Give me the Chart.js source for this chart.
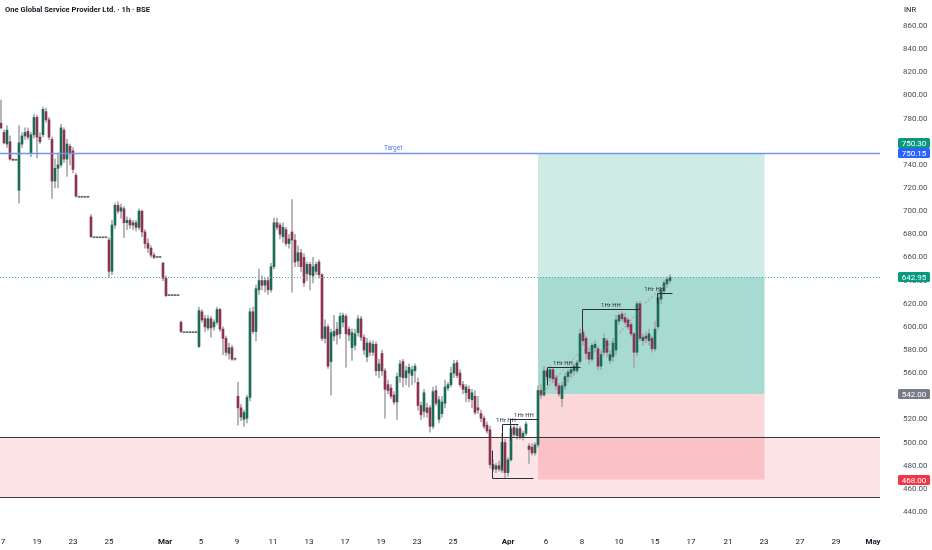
<!DOCTYPE html>
<html><head><meta charset="utf-8">
<script src="https://cdn.jsdelivr.net/npm/chart.js@4.4.1/dist/chart.umd.min.js"></script>
<style>html,body{margin:0;padding:0;background:#fff;}canvas{display:block}</style>
</head><body>
<canvas id="c" width="932" height="550"></canvas>
<script>
const title = 'One Global Service Provider Ltd. · 1h · BSE';
const currency = 'INR';

const opens = [
776,768,758,760,745,744,718,758,765,769,
750,766,781,764,766,786,779,762,726,737,
740,770,745,756,752,731,712,712,712,712,
695,677,677,677,677,677,675,648,688,705,
700,702,690,692,688,690,686,700,682,672,
668,662,660,660,655,642,627,627,627,627,
604,595,595,595,595,595,583,613,607,599,
607,600,604,615,598,590,577,582,572,540,
530,520,521,539,613,596,632,640,636,640,
632,652,690,688,678,684,672,682,675,657,
664,660,646,654,644,648,656,645,590,600,
570,592,598,594,604,609,598,582,584,595,
607,591,574,586,578,585,562,577,562,550,
547,541,535,557,570,556,560,558,562,552,
532,527,530,530,514,545,520,525,534,547,
550,560,569,560,550,543,546,537,540,530,
525,521,515,511,481,477,480,476,500,474,
485,513,506,512,505,508,497,496,491,498,
545,541,562,556,563,556,549,538,549,557,
560,562,562,570,595,590,578,572,582,581,
566,578,588,571,574,580,605,611,608,606,
602,594,578,620,588,592,588,590,581,600,
624,631,637,640];
const highs = [
796,770,774,765,745,744,774,768,772,772,
768,784,783,768,790,789,781,764,745,750,
775,772,762,758,755,733,712,712,712,712,
697,677,677,677,677,677,677,692,707,708,
706,704,695,694,692,692,702,701,684,676,
670,664,660,660,656,644,627,627,627,627,
605,595,595,595,595,595,617,615,610,610,
609,606,617,616,600,592,586,584,573,552,
533,528,541,616,617,636,650,644,642,643,
655,694,694,690,690,686,680,710,680,670,
667,663,656,656,660,656,658,646,606,602,
598,610,604,612,612,611,600,598,598,610,
609,593,590,588,588,587,572,580,564,554,
550,544,560,571,572,566,568,566,568,556,
535,546,534,532,548,549,540,540,554,552,
565,571,571,563,553,550,549,546,545,540,
528,523,518,514,485,482,484,508,503,487,
514,516,515,514,510,518,499,499,500,549,
550,566,564,566,565,558,551,552,560,563,
566,568,571,598,598,592,582,586,588,583,
580,594,590,580,590,610,612,613,612,608,
604,595,622,622,594,596,598,592,605,628,
634,640,643,645];
const lows = [
771,758,755,744,744,744,707,755,762,762,
747,763,746,758,764,777,762,711,720,720,
738,742,730,740,733,712,712,712,712,712,
677,677,677,677,677,677,643,645,685,698,
694,677,684,685,684,683,684,678,668,664,
660,659,660,660,640,626,627,627,627,627,
595,595,595,595,595,595,582,604,596,597,
591,597,602,596,576,575,572,571,571,515,
519,514,517,536,594,588,628,632,630,628,
630,650,684,676,673,670,668,630,652,652,
648,635,640,632,638,645,642,588,586,564,
541,588,585,590,600,565,588,571,580,592,
588,576,570,575,575,558,556,558,521,542,
538,533,520,552,548,550,548,550,552,528,
520,522,522,509,512,532,517,522,530,545,
548,556,556,548,542,535,535,530,524,525,
518,512,508,478,475,474,475,474,469,471,
484,505,503,503,502,506,482,489,489,496,
538,540,554,553,552,546,540,531,546,552,
556,558,560,568,584,572,568,570,578,563,
563,575,574,568,570,576,602,605,602,598,
592,565,575,588,584,586,584,578,579,598,
620,628,634,638];
const closes = [
772,759,770,745,744,744,759,765,768,764,
766,781,764,760,788,779,764,726,737,740,
772,745,758,750,736,713,712,712,712,712,
678,677,677,677,677,677,648,688,705,700,
703,690,692,688,690,686,700,682,672,668,
662,660,660,660,642,627,627,627,627,627,
596,595,595,595,595,595,614,606,600,607,
599,604,615,598,590,578,582,572,572,530,
522,526,539,613,596,633,640,636,640,632,
652,690,686,680,686,672,676,675,656,664,
652,638,654,645,652,654,645,590,600,566,
595,596,593,609,610,594,593,595,594,607,
591,580,586,578,585,562,568,562,546,545,
540,535,557,568,556,562,565,563,566,532,
524,543,526,514,544,534,537,535,548,550,
560,568,558,550,546,548,538,543,526,528,
521,514,510,481,477,480,477,500,474,485,
512,507,512,505,508,516,494,491,498,545,
541,562,557,563,555,549,542,549,557,561,
563,566,569,594,588,577,572,584,585,566,
576,590,578,576,586,606,610,607,604,600,
594,578,620,590,591,590,594,581,598,625,
632,638,641,642.95];

// date ticks (bar-index positions) and labels
const dateTickPos = [0.67,12,24,36,54.67,66.67,78.67,90.67,102.67,114.67,126.67,138.67,150.67,169,181.67,193.67,206,218,230,242.33,254.33,266.33,278.33,290.67];
const dateTickLabels = ['7','19','23','25','Mar','5','9','11','13','17','19','23','25','Apr','6','8','10','15','17','21','23','27','29','May'];
const priceTicks = [440,460,480,500,520,540,560,580,600,620,640,660,680,700,720,740,760,780,800,820,840,860];

// drawing levels
const targetPrice = 750.15, targetTag = 750.30, lastPrice = 642.95, entryPrice = 542.00, stopPrice = 468.00;
const demandTop = 505, demandBottom = 453;
const positionStart = 179, positionEnd = 254.5;
const hhText = ['1Hr HH','1Hr HH','1Hr HH','1Hr HH','1Hr HH'];
const hhLevel = [516, 520.3, 565.3, 615.4, 629.2];
const hhFrom = [167, 169.7, 182, 193.7, 218.7];
const hhTo = [172.3, 179, 193, 213, 223.7];
const hhTextX = [168.3, 174.3, 187.3, 203.3, 217.7];
const hhStemEnd = [478.8, 502.2, 549.7, 594.7, 620.6];
const lowBracket = {from:163.7, to:177.3, level:469.3, top:493.5};
const trendFrom = [[180,541],[199,574],[214.7,620.6]];
const trendTo = [[194,581.7],[213,614.5],[222.3,637.9]];

const GREEN = '#1c6b58', RED = '#8c3353', WICK = '#a9a9a9', FLAT = '#666';
const FONT = 'Roboto, "Noto Sans", sans-serif';

const bodyColors = opens.map((o,i)=> closes[i]>o ? GREEN : (closes[i]<o ? RED : FLAT));
const wickData = highs.map((h,i)=>({x:i, y:[lows[i], h]}));
const bodyData = opens.map((o,i)=>({x:i, y:[Math.min(o,closes[i]), Math.max(o,closes[i])]}));

const overlay = {
  id:'overlay',
  beforeDatasetsDraw(chart){
    const {ctx, chartArea:a, scales:{x,y}} = chart;
    ctx.save();
    ctx.beginPath(); ctx.rect(a.left,a.top,a.width,a.height); ctx.clip();
    const yT=y.getPixelForValue(demandTop), yB=y.getPixelForValue(demandBottom);
    ctx.fillStyle='rgba(242,54,69,0.13)';
    ctx.fillRect(a.left,yT,a.width,yB-yT);
    const x0=x.getPixelForValue(positionStart), x1=x.getPixelForValue(positionEnd);
    const yTg=y.getPixelForValue(targetPrice), yE=y.getPixelForValue(entryPrice), yS=y.getPixelForValue(stopPrice), yL=y.getPixelForValue(lastPrice);
    ctx.fillStyle='rgba(8,153,129,0.2)';
    ctx.fillRect(x0,yTg,x1-x0,yE-yTg);
    ctx.fillStyle='rgba(8,153,129,0.2)';
    ctx.fillRect(x0,yL,x1-x0,yE-yL);
    ctx.fillStyle='rgba(242,54,69,0.2)';
    ctx.fillRect(x0,yE,x1-x0,yS-yE);
    ctx.restore();
  },
  afterDatasetsDraw(chart){
    const {ctx, chartArea:a, scales:{x,y}} = chart;
    const py = v => Math.round(y.getPixelForValue(v))+0.5;
    const px = v => Math.round(x.getPixelForValue(v))+0.5;
    ctx.save();
    ctx.beginPath(); ctx.rect(a.left,a.top,a.width,a.height); ctx.clip();
    ctx.lineWidth=1;
    ctx.strokeStyle='#3a3a3a';
    [demandTop,demandBottom].forEach(v=>{ctx.beginPath();ctx.moveTo(a.left,py(v));ctx.lineTo(a.right,py(v));ctx.stroke();});
    ctx.strokeStyle='#6f94f3'; ctx.lineWidth=1.5;
    ctx.beginPath();ctx.moveTo(a.left,py(targetPrice));ctx.lineTo(a.right,py(targetPrice));ctx.stroke();
    ctx.lineWidth=1;
    ctx.fillStyle='#4f7ce8'; ctx.font='6.5px '+FONT; ctx.textAlign='center'; ctx.textBaseline='bottom';
    ctx.fillText('Target', x.getPixelForValue(130.7), py(targetPrice)-2);
    ctx.strokeStyle='#3fae9c'; ctx.setLineDash([1,2]);
    ctx.beginPath();ctx.moveTo(a.left,py(lastPrice));ctx.lineTo(a.right,py(lastPrice));ctx.stroke();
    ctx.strokeStyle='#8a8f99'; ctx.setLineDash([2,2]);
    trendFrom.forEach((f,i)=>{const t=trendTo[i];ctx.beginPath();ctx.moveTo(x.getPixelForValue(f[0]),y.getPixelForValue(f[1]));ctx.lineTo(x.getPixelForValue(t[0]),y.getPixelForValue(t[1]));ctx.stroke();});
    ctx.setLineDash([]);
    ctx.strokeStyle='#2a2e39';
    hhLevel.forEach((lv,i)=>{
      ctx.beginPath();
      ctx.moveTo(px(hhFrom[i]),py(hhStemEnd[i]));
      ctx.lineTo(px(hhFrom[i]),py(lv));
      ctx.lineTo(px(hhTo[i]),py(lv));
      ctx.stroke();
    });
    ctx.beginPath();
    ctx.moveTo(px(lowBracket.from),py(lowBracket.top));
    ctx.lineTo(px(lowBracket.from),py(lowBracket.level));
    ctx.lineTo(px(lowBracket.to),py(lowBracket.level));
    ctx.stroke();
    ctx.fillStyle='#2a2e39'; ctx.font='6px '+FONT; ctx.textAlign='center'; ctx.textBaseline='bottom';
    hhText.forEach((t,i)=>ctx.fillText(t, x.getPixelForValue(hhTextX[i]), py(hhLevel[i])-1));
    ctx.restore();
  },
  afterDraw(chart){
    const {ctx, scales:{y}} = chart;
    ctx.save();
    ctx.fillStyle='#131722'; ctx.font='bold 7.6px '+FONT; ctx.textAlign='left'; ctx.textBaseline='middle';
    ctx.fillText(title, 5, 10);
    ctx.font='7.5px '+FONT; ctx.fillText(currency, 904, 10);
    const tag=(v,txt,col,dy)=>{
      const yc=Math.round(y.getPixelForValue(v))+dy;
      ctx.fillStyle=col;
      ctx.beginPath();
      if (ctx.roundRect) ctx.roundRect(898,yc-5,32,10,1.5); else ctx.rect(898,yc-5,32,10);
      ctx.fill();
      ctx.fillStyle='#fff'; ctx.font='8px '+FONT; ctx.textAlign='center'; ctx.textBaseline='middle';
      ctx.fillText(txt,914,yc+0.5);
    };
    tag(targetPrice, targetPrice.toFixed(2), '#2962ff', 0);
    tag(targetPrice, targetTag.toFixed(2), '#089981', -10);
    tag(lastPrice, lastPrice.toFixed(2), '#089981', 0);
    tag(entryPrice, entryPrice.toFixed(2), '#787b86', 0);
    tag(stopPrice, stopPrice.toFixed(2), '#f23645', 0);
    ctx.restore();
  }
};

new Chart(document.getElementById('c'), {
  type:'bar',
  data:{datasets:[
    {data:wickData, backgroundColor:WICK, barThickness:1, grouped:false, order:2, borderWidth:0},
    {data:bodyData, backgroundColor:bodyColors, barThickness:2, minBarLength:1, grouped:false, order:1, borderWidth:0}
  ]},
  options:{
    responsive:false, animation:false,
    layout:{padding:0, autoPadding:false},
    plugins:{legend:{display:false}, tooltip:{enabled:false}},
    scales:{
      x:{type:'linear', offset:false, min:-0.33, max:293,
        grid:{display:false, offset:false, drawTicks:false}, border:{display:false},
        afterBuildTicks:(ax)=>{ax.ticks=dateTickPos.map(v=>({value:v}));},
        afterFit:(ax)=>{ax.height=20; ax.paddingLeft=0; ax.paddingRight=0;},
        ticks:{autoSkip:false, maxRotation:0, padding:7, color:'#131722',
          font:(c)=>({family:FONT, size:8, weight: (['Mar','Apr','May'].includes(dateTickLabels[c.index])?'bold':'normal')}),
          callback:(v,i)=>dateTickLabels[i]}
      },
      y:{type:'linear', position:'right', min:424.4, max:882.5, beginAtZero:false,
        grid:{display:false, drawTicks:false}, border:{display:false},
        afterBuildTicks:(ax)=>{ax.ticks=priceTicks.map(v=>({value:v}));},
        afterFit:(ax)=>{ax.width=52; ax.paddingTop=0; ax.paddingBottom=0;},
        ticks:{padding:23, color:'#4a4e59', font:{family:FONT, size:8}, callback:(v)=>Number(v).toFixed(2)}
      }
    }
  },
  plugins:[overlay]
});
</script>
</body></html>
